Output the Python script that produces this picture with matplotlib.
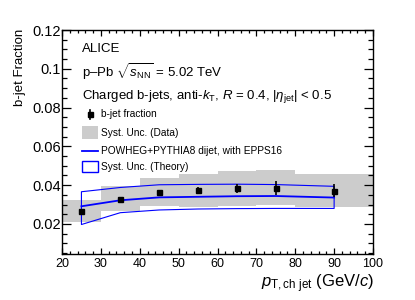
##
## === DEPENDENCIES
##

import matplotlib
matplotlib.use("Agg")
import matplotlib.pyplot as plt
from matplotlib.lines import Line2D
from matplotlib.patches import Rectangle
import numpy

##
## === DATA
##

bin_edges = [20, 30, 40, 50, 60, 70, 80, 100]
pt_centers = [25, 35, 45, 55, 65, 75, 90]
bjet_fraction = [0.0266, 0.0331, 0.0365, 0.0374, 0.0384, 0.0387, 0.0372]
stat_err = [0.0008, 0.0007, 0.0010, 0.0015, 0.0024, 0.0036, 0.0035]
syst_err = [0.0055, 0.0064, 0.0073, 0.0086, 0.0090, 0.0090, 0.0086]

theory_central = [0.0291, 0.0322, 0.0337, 0.0340, 0.0343, 0.0344, 0.0336]
theory_upper = [0.0366, 0.0388, 0.0402, 0.0404, 0.0405, 0.0403, 0.0394]
theory_lower = [0.0197, 0.0258, 0.0272, 0.0277, 0.0279, 0.0280, 0.0280]

legend_labels = [
    "b-jet fraction",
    "Syst. Unc. (Data)",
    "POWHEG+PYTHIA8 dijet, with EPPS16",
    "Syst. Unc. (Theory)",
]

##
## === STYLE
##

FONT = "Liberation Sans"
GREY = "#cccccc"
BLUE = "#0000ff"
FIG_W, FIG_H = 415, 300

plt.rcParams["font.family"] = [FONT, "DejaVu Sans"]
plt.rcParams["mathtext.fontset"] = "custom"
plt.rcParams["mathtext.rm"] = FONT
plt.rcParams["mathtext.it"] = f"{FONT}:italic"
plt.rcParams["mathtext.bf"] = f"{FONT}:bold"


def fx(px):
    return px / FIG_W


def fy(py):
    return 1.0 - py / FIG_H


##
## === MAIN
##


def main() -> None:
    fig = plt.figure(figsize=(FIG_W / 100, FIG_H / 100), dpi=100)
    ax = fig.add_axes([fx(62), fy(254), fx(373) - fx(62), fy(30) - fy(254)])

    edges = numpy.array(bin_edges, dtype=float)
    vals = numpy.array(bjet_fraction)
    syst = numpy.array(syst_err)

    # data systematics: grey boxes per bin
    ax.bar(
        edges[:-1],
        2 * syst,
        width=numpy.diff(edges),
        bottom=vals - syst,
        align="edge",
        color=GREY,
        linewidth=0,
        zorder=1,
    )

    # theory band (outline only) + central line
    ax.fill_between(
        pt_centers,
        theory_lower,
        theory_upper,
        facecolor="none",
        edgecolor=BLUE,
        linewidth=0.8,
        zorder=2,
    )
    ax.plot(pt_centers, theory_central, color=BLUE, linewidth=1.3, zorder=3)

    ax.errorbar(
        pt_centers,
        bjet_fraction,
        yerr=stat_err,
        fmt="s",
        color="black",
        markersize=3.6,
        elinewidth=1.2,
        capsize=0,
        zorder=4,
    )

    ax.set_xlim(20, 100)
    ax.set_ylim(0.0045, 0.12)
    ax.set_xticks(numpy.arange(20, 101, 10))
    ax.set_xticks(numpy.arange(20, 101, 2), minor=True)
    ax.set_yticks([0.02, 0.04, 0.06, 0.08, 0.1, 0.12])
    ax.set_yticklabels(["0.02", "0.04", "0.06", "0.08", "0.1", "0.12"])
    ax.set_yticks(numpy.arange(0.005, 0.1201, 0.005), minor=True)

    ax.tick_params(axis="both", which="both", direction="in", top=True, right=True,
                   width=0.9)
    ax.tick_params(axis="x", which="major", length=4.5, pad=3, labelsize=9)
    ax.tick_params(axis="x", which="minor", length=2.3)
    ax.tick_params(axis="y", which="major", length=6.5, pad=1, labelsize=10.5)
    ax.tick_params(axis="y", which="minor", length=3.3)
    for spine in ax.spines.values():
        spine.set_linewidth(1.0)

    # axis titles
    fig.text(fx(374), fy(283.5), r"$p_{\rm T,ch\ jet}$ (GeV/$c$)", fontsize=12,
             ha="right", va="center")
    fig.text(fx(20), fy(29), "b-jet Fraction", fontsize=9.5, rotation=90,
             ha="center", va="top")

    # header text
    fig.text(fx(82), fy(49), "ALICE", fontsize=9.5, va="center")
    fig.text(fx(82), fy(72), r"p–Pb $\sqrt{s_{\rm NN}}$ = 5.02 TeV",
             fontsize=9.5, va="center")
    fig.text(fx(82), fy(96),
             r"Charged b-jets, anti-$k_{\rm T}$, $R$ = 0.4, $|\eta_{\rm jet}|$ < 0.5",
             fontsize=9.5, va="center")

    # hand-made legend
    leg_y = [114, 132.5, 151, 166.5]
    text_x = fx(101)
    mark_x0, mark_x1 = fx(82), fx(97.5)
    mark_xc = fx(89.5)

    fig.add_artist(Line2D([mark_xc, mark_xc], [fy(leg_y[0] - 4.5), fy(leg_y[0] + 4.5)],
                          color="black", linewidth=1.2))
    fig.add_artist(Line2D([mark_xc], [fy(leg_y[0])], marker="s", markersize=3.6,
                          color="black", linestyle="none"))
    fig.add_artist(Rectangle((mark_x0, fy(leg_y[1] + 6.5)), mark_x1 - mark_x0,
                             fy(leg_y[1] - 6.5) - fy(leg_y[1] + 6.5),
                             facecolor=GREY, edgecolor="none"))
    fig.add_artist(Line2D([mark_x0, mark_x1], [fy(leg_y[2]), fy(leg_y[2])],
                          color=BLUE, linewidth=1.3))
    fig.add_artist(Rectangle((mark_x0, fy(leg_y[3] + 5.3)), mark_x1 - mark_x0,
                             fy(leg_y[3] - 5.3) - fy(leg_y[3] + 5.3),
                             facecolor="none", edgecolor=BLUE, linewidth=1.0))
    for label, py in zip(legend_labels, leg_y):
        fig.text(text_x, fy(py), label, fontsize=7.3, va="center")

    fig.savefig("out.png", dpi=100)


if __name__ == "__main__":
    main()
